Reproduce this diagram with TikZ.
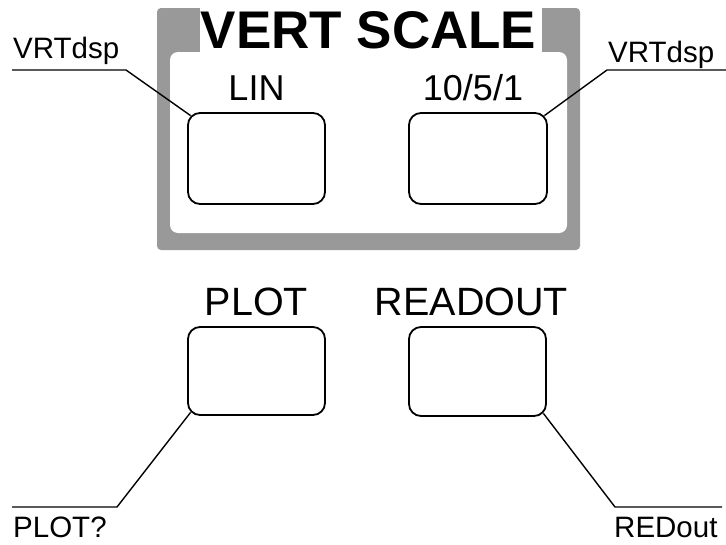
\documentclass[tikz,border=0pt]{standalone}
\usepackage{fontspec}
\setmainfont{Liberation Sans}
\usetikzlibrary{calc}
\definecolor{framegray}{gray}{0.6}
\begin{document}
\begin{tikzpicture}[x=1pt,y=-1pt,
  btn/.style={draw,line width=1.8pt,rounded corners=12pt,inner sep=0pt},
  lbl/.style={anchor=base,inner sep=0pt,font=\fontsize{36}{40}\selectfont},
  lblb/.style={anchor=base,inner sep=0pt,font=\fontsize{39.5}{44}\selectfont},
  sig/.style={anchor=base west,inner sep=0pt,font=\fontsize{29.5}{33}\selectfont},
  lead/.style={line width=1.4pt}]
\useasboundingbox (0,0) rectangle (726,544);
% shaded frame
\fill[framegray,rounded corners=4pt] (157,8) rectangle (580,250);
\fill[white,rounded corners=8pt] (170,52) rectangle (567,233);
\fill[white] (200,7) rectangle (542,53);
\node[anchor=base,inner sep=0pt,font=\fontsize{53}{60}\selectfont\bfseries] (title) at (368.5,48) {VERT SCALE};
% buttons
\node[btn,minimum width=137pt,minimum height=91pt] (lin) at (256.5,158.5) {};
\node[btn,minimum width=138pt,minimum height=91pt] (ten) at (478,158.5) {};
\node[btn,minimum width=137pt,minimum height=88pt] (plot) at (256.5,371) {};
\node[btn,minimum width=137pt,minimum height=89pt] (read) at (477.5,371.5) {};
% button labels
\node[lbl] (linl) at (256.5,100) {LIN};
\node[lbl] (tenl) at (473,100) {10/5/1};
\node[lblb] (plotl) at (256.5,315) {PLOT};
\node[lblb] (readl) at (471.5,315) {READOUT};
% signal labels
\node[sig] (vl) at (13,58) {VRTdsp};
\node[sig] (vr) at (608,62) {VRTdsp};
\node[sig] (pq) at (13,537) {PLOT?};
\node[sig] (ro) at (614,537) {REDout};
% leaders
\coordinate (vlA) at (12,70); \coordinate (vlB) at (126,70);
\draw[lead] (vlA) -- (vlB) -- ($(lin.north west)+(3.5,3.5)$);
\coordinate (vrA) at (726,70); \coordinate (vrB) at (607,70);
\draw[lead] (vrA) -- (vrB) -- ($(ten.north east)+(-3.5,3.5)$);
\coordinate (pqA) at (12,507); \coordinate (pqB) at (117,507);
\draw[lead] (pqA) -- (pqB) -- ($(plot.south west)+(3.5,-3.5)$);
\coordinate (roA) at (722,507); \coordinate (roB) at (615,507);
\draw[lead] (roA) -- (roB) -- ($(read.south east)+(-3.5,-3.5)$);
\end{tikzpicture}
\end{document}
